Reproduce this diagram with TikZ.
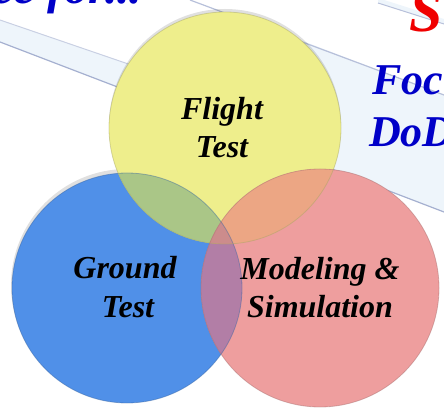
\documentclass[tikz,border=0pt]{standalone}
\usepackage{fontspec}
\setmainfont{Liberation Serif}
\usepackage{xcolor}

\definecolor{flightyellow}{RGB}{238,238,140}
\definecolor{groundblue}{RGB}{80,144,232}
\definecolor{simpink}{RGB}{238,158,158}
\definecolor{fgmix}{RGB}{170,198,135}
\definecolor{gsmix}{RGB}{178,126,166}
\definecolor{fsmix}{RGB}{236,166,132}
\definecolor{allmix}{RGB}{204,140,140}
\definecolor{slideblue}{RGB}{0,0,200}
\definecolor{slidered}{RGB}{240,0,0}
\definecolor{slidepale}{RGB}{238,245,251}
\definecolor{slideedge}{RGB}{165,176,208}

\begin{document}
\begin{tikzpicture}[x=1pt, y=-1pt,
  venn label/.style={font=\fontsize{32}{38}\selectfont\bfseries\itshape, anchor=base, inner sep=0pt},
  slide text/.style={font=\fontsize{44}{52}\selectfont\bfseries\itshape, anchor=base west, inner sep=0pt, text=slideblue},
  rim/.style={draw=#1!70!black, line width=0.8pt, draw opacity=0.45}]
  \useasboundingbox (0,0) rectangle (444,411);
  \clip (0,0) rectangle (444,411);

  % Define the circle centres
  \coordinate (F) at (225,128);
  \coordinate (G) at (127,288);
  \coordinate (S) at (320,288);

  % Slide behind the diagram
  \fill[slidepale] (0,20) -- (140,68) -- (240,17) -- (444,95) -- (444,212) -- (0,42) -- cycle;
  \draw[slideedge, line width=1.2pt] (0,42) -- (444,212);
  \draw[slideedge!60, line width=1pt] (0,20) -- (140,68);
  \draw[slideedge!80, line width=1.2pt] (190,0) -- (444,95);
  \fill[slidepale] (378,-2) -- (444,19) -- (444,24) -- (378,3) -- cycle;
  \draw[slideedge!80, line width=1pt] (378,3) -- (444,24);

  % Slide texts
  \node[slide text, font=\fontsize{49}{52}\selectfont\bfseries\itshape] (lefttitle) at (-8,4) {ce for...};
  \node[font=\fontsize{60}{60}\selectfont\bfseries\itshape, text=slidered, anchor=base west, inner sep=0pt] (redS) at (409,32) {S};
  \node[slide text] (focus) at (372,95) {Focu};
  \node[slide text] (dod) at (369,147) {DoD};

  % Shadows under the circles
  \foreach \c in {G,S,F}
    \fill[black, opacity=0.12] ([yshift=3pt]\c) circle (116);

  % Draw the three circles
  \fill[groundblue] (G) circle (115);
  \fill[flightyellow] (F) circle (116);
  \fill[simpink] (S) circle (119);

  % Overlap regions
  \begin{scope}
    \clip (G) circle (115);
    \fill[fgmix] (F) circle (116);
  \end{scope}
  \begin{scope}
    \clip (S) circle (119);
    \fill[gsmix] (G) circle (115);
    \fill[fsmix] (F) circle (116);
    \clip (G) circle (115);
    \fill[allmix] (F) circle (116);
  \end{scope}

  % Rims
  \draw[rim=groundblue] (G) circle (115);
  \draw[rim=flightyellow] (F) circle (116);
  \draw[rim=simpink] (S) circle (119);

  % Labels
  \node[venn label] (flight) at (222,120) {Flight};
  \node[venn label] (flighttest) at (222,158) {Test};
  \node[venn label] (ground) at (125,279) {Ground};
  \node[venn label] (groundtest) at (128,317) {Test};
  \node[venn label] (modeling) at (320,280) {Modeling \&};
  \node[venn label] (simulation) at (320,318) {Simulation};
\end{tikzpicture}
\end{document}
